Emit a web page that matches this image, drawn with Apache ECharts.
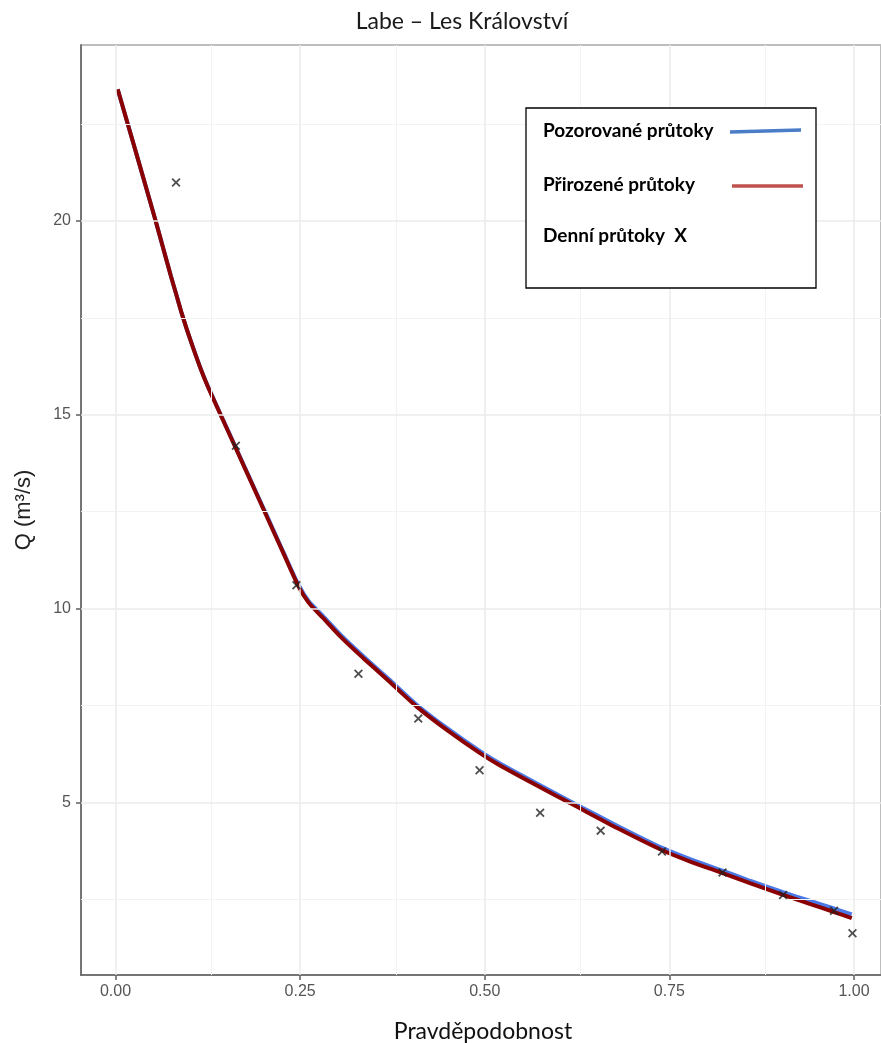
<!DOCTYPE html>
<html>
<head>
<meta charset="utf-8">
<script src="https://cdn.jsdelivr.net/npm/echarts@6/dist/echarts.min.js"></script>
<style>
html,body{margin:0;padding:0;background:#fff;}
#c{width:881px;height:1043px;}
</style>
</head>
<body>
<div id="c"></div>
<script>
// ---- data ----
const titleText = 'Labe – Les Království';
const xName = 'Pravděpodobnost';
const yName = 'Q (m³/s)';
const legendNames = ['Pozorované průtoky', 'Přirozené průtoky', 'Denní průtoky  X'];

const xTicks = [0, 0.25, 0.5, 0.75, 1];
const xMinor = [0.125, 0.375, 0.625, 0.875];
const yTicks = [5, 10, 15, 20];
const yMinor = [2.5, 7.5, 12.5, 17.5, 22.5];

const curveProb = [0.003, 0.03, 0.0544, 0.065, 0.075, 0.0825, 0.0896, 0.097, 0.105, 0.115, 0.125, 0.144, 0.164, 0.185, 0.2047, 0.2273, 0.2476, 0.262, 0.2814, 0.305, 0.3356, 0.37, 0.4078, 0.45, 0.4936, 0.5207, 0.57, 0.6245, 0.68, 0.7396, 0.78, 0.823, 0.86, 0.904, 0.94, 0.973, 0.997];
const naturalQ = [23.40, 21.62, 20.0, 19.27, 18.58, 18.09, 17.62, 17.18, 16.73, 16.20, 15.73, 14.93, 14.09, 13.21, 12.38, 11.43, 10.58, 10.14, 9.75, 9.27, 8.72, 8.13, 7.47, 6.85, 6.27, 5.95, 5.44, 4.89, 4.33, 3.77, 3.46, 3.17, 2.91, 2.61, 2.38, 2.17, 2.01];
const observedQ = [23.40, 21.62, 20.0, 19.27, 18.58, 18.09, 17.62, 17.18, 16.74, 16.21, 15.74, 14.94, 14.11, 13.23, 12.41, 11.46, 10.62, 10.18, 9.80, 9.32, 8.77, 8.18, 7.52, 6.90, 6.32, 6.00, 5.49, 4.94, 4.39, 3.83, 3.52, 3.23, 2.97, 2.68, 2.46, 2.26, 2.11];

const dailyProb = [0.082, 0.163, 0.245, 0.329, 0.410, 0.493, 0.575, 0.657, 0.740, 0.822, 0.904, 0.973, 0.998];
const dailyQ = [20.99, 14.2, 10.6, 8.32, 7.16, 5.83, 4.73, 4.27, 3.73, 3.19, 2.61, 2.20, 1.62];

// ---- chart ----
const chart = echarts.init(document.getElementById('c'), null, {renderer: 'canvas'});
const zip = (a, b) => a.map((v, i) => [v, b[i]]);
const gridLines = (vals, key, style) => vals.map(v => ({[key]: v, lineStyle: style}));

const option = {
  animation: false,
  backgroundColor: '#fff',
  grid: {
    left: 81, right: 0, top: 45, bottom: 68,
    show: true, borderColor: '#bdbdbd', borderWidth: 2,
    outerBoundsMode: 'none', containLabel: false
  },
  xAxis: {
    type: 'value', min: -0.0467, max: 1.0366,
    axisLine: {show: true, onZero: false, lineStyle: {color: '#5e5e5e', width: 1.5}},
    axisTick: {show: true, length: 5, customValues: xTicks, lineStyle: {color: '#5e5e5e', width: 1.5}},
    axisLabel: {customValues: xTicks, margin: 9, color: '#555', fontSize: 16, fontFamily: 'Liberation Sans',
      formatter: v => v.toFixed(2)},
    splitLine: {show: false}
  },
  yAxis: {
    type: 'value', min: 0.545, max: 24.54,
    axisLine: {show: true, onZero: false, lineStyle: {color: '#5e5e5e', width: 1.5}},
    axisTick: {show: true, length: 5, customValues: yTicks, lineStyle: {color: '#5e5e5e', width: 1.5}},
    axisLabel: {customValues: yTicks, margin: 10, color: '#555', fontSize: 16, fontFamily: 'Liberation Sans'},
    splitLine: {show: false}
  },
  series: [
    {
      type: 'line', data: [], z: 1, silent: true,
      markLine: {
        silent: true, symbol: ['none', 'none'], label: {show: false},
        animation: false,
        data: [
          ...gridLines(xMinor, 'xAxis', {color: '#f3f3f3', width: 1, type: 'solid'}),
          ...gridLines(yMinor, 'yAxis', {color: '#f3f3f3', width: 1, type: 'solid'}),
          ...gridLines(xTicks, 'xAxis', {color: '#ebebeb', width: 1.5, type: 'solid'}),
          ...gridLines(yTicks, 'yAxis', {color: '#ebebeb', width: 1.5, type: 'solid'})
        ]
      }
    },
    {
      name: legendNames[0], type: 'line', z: 3,
      data: zip(curveProb, observedQ), smooth: 0.2,
      showSymbol: false, lineStyle: {color: '#4a78e6', width: 4}
    },
    {
      name: legendNames[1], type: 'line', z: 4,
      data: zip(curveProb, naturalQ), smooth: 0.2,
      showSymbol: false, lineStyle: {color: '#8b0000', width: 4}
    },
    {
      name: legendNames[2], type: 'scatter', z: 5,
      data: zip(dailyProb, dailyQ),
      symbol: 'path://M0,1.4 L1.4,0 L5,3.6 L8.6,0 L10,1.4 L6.4,5 L10,8.6 L8.6,10 L5,6.4 L1.4,10 L0,8.6 L3.6,5 Z',
      symbolSize: 9,
      itemStyle: {color: '#222'}
    }
  ],
  graphic: [
    {type: 'text', x: 462, y: 22, z: 10,
      style: {text: titleText, font: '23px Lato', fill: '#1a1a1a', textAlign: 'center', textVerticalAlign: 'middle'}},
    {type: 'text', x: 483, y: 1032, z: 10,
      style: {text: xName, font: '23px Lato', fill: '#111', textAlign: 'center', textVerticalAlign: 'middle'}},
    {type: 'text', x: 24, y: 510, rotation: Math.PI / 2, z: 10,
      style: {text: yName, font: '22px "Liberation Sans"', fill: '#222', textAlign: 'center', textVerticalAlign: 'middle'}},
    {type: 'rect', z: 20, shape: {x: 526, y: 108, width: 290, height: 180},
      style: {fill: '#fff', stroke: '#000', lineWidth: 1.3}},
    {type: 'text', x: 543, y: 131, z: 21,
      style: {text: legendNames[0], font: 'bold 19px Lato', fill: '#000', textVerticalAlign: 'middle'}},
    {type: 'text', x: 543, y: 185, z: 21,
      style: {text: legendNames[1], font: 'bold 19px Lato', fill: '#000', textVerticalAlign: 'middle'}},
    {type: 'text', x: 543, y: 236, z: 21,
      style: {text: legendNames[2], font: 'bold 19px Lato', fill: '#000', textVerticalAlign: 'middle'}},
    {type: 'line', z: 21, shape: {x1: 730, y1: 132, x2: 801, y2: 130},
      style: {stroke: '#4a7cc7', lineWidth: 3.5}},
    {type: 'line', z: 21, shape: {x1: 732, y1: 186, x2: 803, y2: 186},
      style: {stroke: '#c0504d', lineWidth: 3.5}}
  ]
};
chart.setOption(option);
</script>
</body>
</html>
